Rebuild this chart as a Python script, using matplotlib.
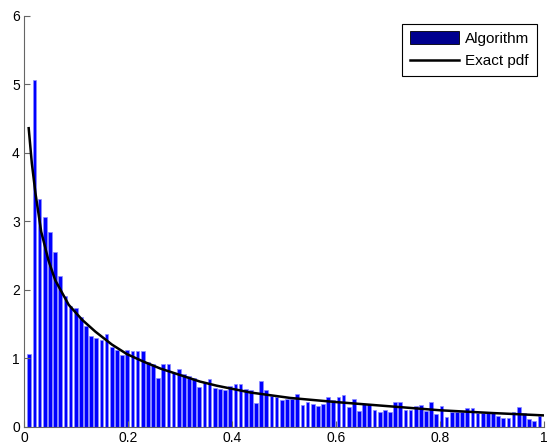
import numpy as np
import matplotlib
matplotlib.use("Agg")
import matplotlib.pyplot as plt
from matplotlib.patches import Patch
from matplotlib.lines import Line2D

plt.rcParams['font.family'] = ['Liberation Sans', 'DejaVu Sans']

# histogram: 100 bins between the sample min and max
bin_first = 0.0102
bin_last = 0.9910
counts = [
    1.06, 5.07, 3.33, 3.07, 2.85, 2.55, 2.20, 1.91, 1.76, 1.73,
    1.60, 1.47, 1.33, 1.30, 1.26, 1.36, 1.17, 1.12, 1.05, 1.12,
    1.11, 1.11, 1.11, 0.95, 0.92, 0.71, 0.91, 0.91, 0.78, 0.85,
    0.77, 0.74, 0.71, 0.58, 0.66, 0.70, 0.57, 0.55, 0.54, 0.60,
    0.63, 0.63, 0.55, 0.53, 0.34, 0.67, 0.53, 0.45, 0.43, 0.39,
    0.41, 0.40, 0.48, 0.31, 0.36, 0.33, 0.30, 0.33, 0.44, 0.39,
    0.44, 0.47, 0.29, 0.41, 0.23, 0.33, 0.33, 0.25, 0.21, 0.25,
    0.21, 0.36, 0.36, 0.24, 0.25, 0.30, 0.31, 0.23, 0.36, 0.19,
    0.30, 0.14, 0.22, 0.22, 0.22, 0.28, 0.27, 0.20, 0.20, 0.21,
    0.21, 0.15, 0.13, 0.13, 0.22, 0.29, 0.20, 0.11, 0.09, 0.16,
]

# exact pdf
pdf_x = [0.009, 0.015, 0.022, 0.033, 0.047, 0.060, 0.086, 0.112, 0.137,
         0.169, 0.198, 0.230, 0.262, 0.294, 0.338, 0.370, 0.435, 0.512,
         0.600, 0.700, 0.800, 0.900, 1.000]
pdf_y = [4.36, 3.85, 3.41, 2.85, 2.43, 2.14, 1.78, 1.56, 1.39,
         1.20, 1.06, 0.95, 0.85, 0.77, 0.66, 0.60, 0.50, 0.42,
         0.36, 0.30, 0.24, 0.20, 0.165]

centers = np.linspace(bin_first, bin_last, len(counts))
bin_w = centers[1] - centers[0]

fig = plt.figure(figsize=(5.47, 4.47), dpi=100)
ax = fig.add_axes([0.0439, 0.0454, 0.9507, 0.919])

ax.bar(centers, counts, width=bin_w * 0.72, color='#0000ff',
       edgecolor='#8c8cff', linewidth=0.5)
ax.plot(pdf_x, pdf_y, color='k', linewidth=1.8)

ax.set_xlim(0, 1)
ax.set_ylim(0, 6)
ax.set_xticks([0, 0.2, 0.4, 0.6, 0.8, 1])
ax.set_xticklabels(['0', '0.2', '0.4', '0.6', '0.8', '1'])
ax.set_yticks(range(7))
for side in ('top', 'right'):
    ax.spines[side].set_visible(False)
for side in ('left', 'bottom'):
    ax.spines[side].set_color('#666666')
ax.tick_params(direction='in', length=4, color='#666666', labelsize=10,
               pad=3)

handles = [Patch(facecolor='#00008f', edgecolor='k', linewidth=0.6),
           Line2D([], [], color='k', linewidth=1.8)]
leg = ax.legend(handles, ['Algorithm', 'Exact pdf'], loc='upper right',
                bbox_to_anchor=(0.986, 0.9815), borderaxespad=0,
                fancybox=False, framealpha=1, edgecolor='k', fontsize=11,
                handlelength=3.2, handleheight=0.95, handletextpad=0.4,
                borderpad=0.5, labelspacing=0.5)
leg.get_frame().set_linewidth(0.8)

fig.savefig('out.png', dpi=100)
